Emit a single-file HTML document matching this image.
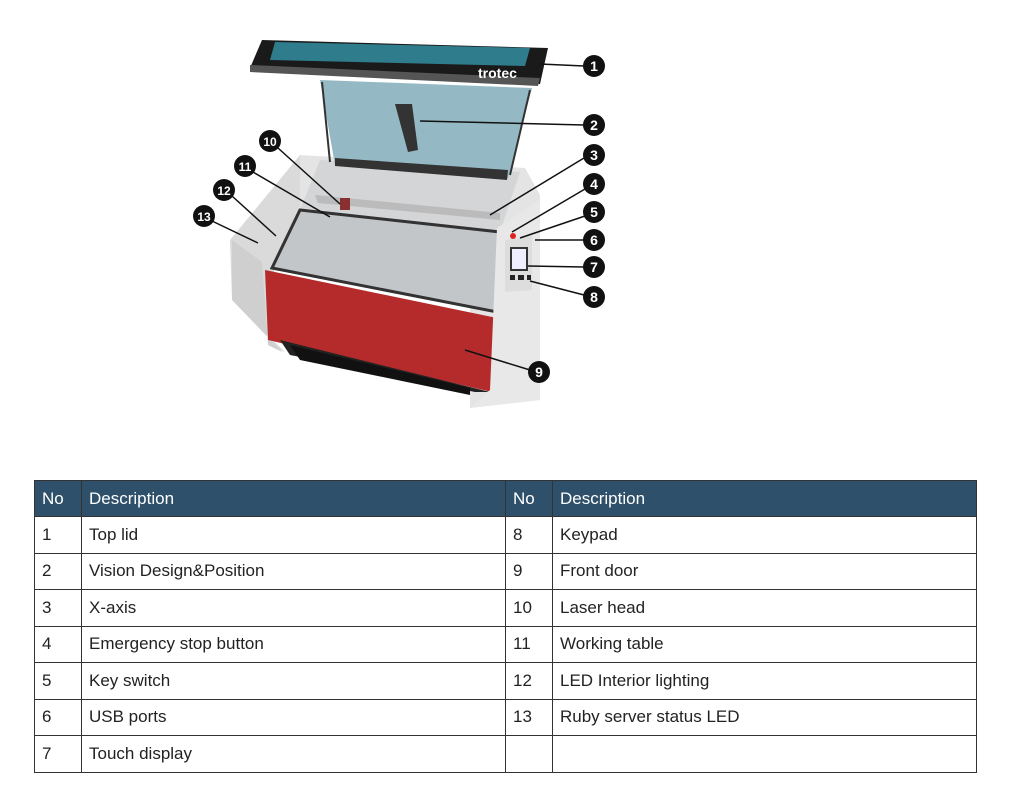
<!DOCTYPE html>
<html><head><style>
body{margin:0;background:#fff;width:1013px;height:797px;overflow:hidden;font-family:"Liberation Sans",sans-serif}
svg{position:absolute;left:0;top:0}
table{position:absolute;left:34px;top:480px;border-collapse:collapse;font-size:17px;color:#222}
td{border:1.5px solid #333;height:35.5px;padding:0 0 0 7px;font-weight:300}
tr.h td{background:#2e506a;color:#fff;height:35px}
</style></head><body>
<svg width="1013" height="470" viewBox="0 0 1013 470">
<!-- left side panel -->
<polygon points="300,155 320,160 275,265 268,345 285,352 232,300 230,240" fill="#dadada"/>
<polygon points="232,240 262,262 268,345 282,352 232,300" fill="#cfcfcf"/>
<!-- back/top rim -->
<polygon points="300,155 525,168 540,195 540,400 470,408 470,300 300,260" fill="#e4e4e4"/>
<polygon points="320,160 520,172 500,232 300,210" fill="#d3d5d7"/>
<!-- table -->
<polygon points="300,210 500,232 497,312 272,268" fill="#c3c6c9" stroke="#333" stroke-width="3"/>
<!-- red front -->
<polygon points="265,270 497,318 492,392 268,340" fill="#b52b2b"/>
<polygon points="280,340 490,392 475,392 290,355" fill="#222"/>
<polygon points="290,345 470,388 470,395 300,360" fill="#111"/>
<!-- right pillar -->
<polygon points="497,228 540,200 540,400 470,408 490,390" fill="#e8e8e8"/>
<polygon points="505,240 532,236 532,290 505,292" fill="#ddd"/>
<rect x="510" y="247" width="18" height="24" fill="#333"/><rect x="512" y="249" width="14" height="20" fill="#eef"/>
<circle cx="513" cy="236" r="3" fill="#d22"/>
<rect x="510" y="275" width="5" height="5" fill="#222"/><rect x="518" y="275" width="6" height="5" fill="#222"/><rect x="527" y="275" width="4" height="5" fill="#222"/>
<!-- x axis -->
<polygon points="315,195 500,213 500,220 318,203" fill="#bbb"/>
<rect x="340" y="198" width="10" height="12" fill="#8a3030"/>
<!-- lid -->
<polygon points="320,80 532,88 508,178 335,165" fill="#94b9c4"/>
<line x1="322" y1="82" x2="330" y2="162" stroke="#333" stroke-width="2"/>
<line x1="530" y1="90" x2="510" y2="175" stroke="#333" stroke-width="2"/>
<polygon points="335,158 508,170 507,180 335,166" fill="#333"/>
<polygon points="395,104 412,104 418,150 408,152" fill="#333"/>
<polygon points="262,40 548,48 540,84 250,68" fill="#1a1a1a"/>
<polygon points="275,42 530,48 525,66 270,60" fill="#2f7d8c"/>
<polygon points="250,65 540,78 538,86 250,72" fill="#555"/>
<text x="478" y="78" font-size="14" fill="#fff" font-weight="bold" font-family="Liberation Sans">trotec</text>
<!-- leaders -->
<g stroke="#111" stroke-width="1.5" fill="none">
<line x1="540" y1="64" x2="584" y2="66"/><line x1="420" y1="121" x2="584" y2="125"/>
<line x1="490" y1="215" x2="584" y2="158"/><line x1="512" y1="232" x2="585" y2="189"/>
<line x1="520" y1="238" x2="585" y2="216"/><line x1="535" y1="240" x2="584" y2="240"/>
<line x1="528" y1="266" x2="584" y2="267"/><line x1="530" y1="281" x2="584" y2="295"/>
<line x1="465" y1="350" x2="530" y2="370"/><line x1="340" y1="204" x2="278" y2="148"/>
<line x1="330" y1="217" x2="253" y2="172"/><line x1="276" y1="236" x2="232" y2="196"/>
<line x1="258" y1="243" x2="212" y2="221"/>
</g>
<g fill="#111">
<circle cx="594" cy="66" r="11"/><circle cx="594" cy="125" r="11"/><circle cx="594" cy="155" r="11"/>
<circle cx="594" cy="184" r="11"/><circle cx="594" cy="212" r="11"/><circle cx="594" cy="240" r="11"/>
<circle cx="594" cy="267" r="11"/><circle cx="594" cy="297" r="11"/><circle cx="539" cy="372" r="11"/>
<circle cx="270" cy="141" r="11"/><circle cx="245" cy="166" r="11"/><circle cx="224" cy="190" r="11"/>
<circle cx="204" cy="216" r="11"/>
</g>
<g fill="#fff" font-size="14" font-weight="bold" text-anchor="middle" font-family="Liberation Sans">
<text x="594" y="71">1</text><text x="594" y="130">2</text><text x="594" y="160">3</text>
<text x="594" y="189">4</text><text x="594" y="217">5</text><text x="594" y="245">6</text>
<text x="594" y="272">7</text><text x="594" y="302">8</text><text x="539" y="377">9</text>
<text x="270" y="146" font-size="12">10</text><text x="245" y="171" font-size="12">11</text>
<text x="224" y="195" font-size="12">12</text><text x="204" y="221" font-size="12">13</text>
</g>
</svg>
<table>
<colgroup><col style="width:47px"><col style="width:424px"><col style="width:47px"><col style="width:424px"></colgroup>
<tr class="h"><td>No</td><td>Description</td><td>No</td><td>Description</td></tr>
<tr><td>1</td><td>Top lid</td><td>8</td><td>Keypad</td></tr>
<tr><td>2</td><td>Vision Design&amp;Position</td><td>9</td><td>Front door</td></tr>
<tr><td>3</td><td>X-axis</td><td>10</td><td>Laser head</td></tr>
<tr><td>4</td><td>Emergency stop button</td><td>11</td><td>Working table</td></tr>
<tr><td>5</td><td>Key switch</td><td>12</td><td>LED Interior lighting</td></tr>
<tr><td>6</td><td>USB ports</td><td>13</td><td>Ruby server status LED</td></tr>
<tr><td>7</td><td>Touch display</td><td></td><td></td></tr>
</table>
</body></html>
